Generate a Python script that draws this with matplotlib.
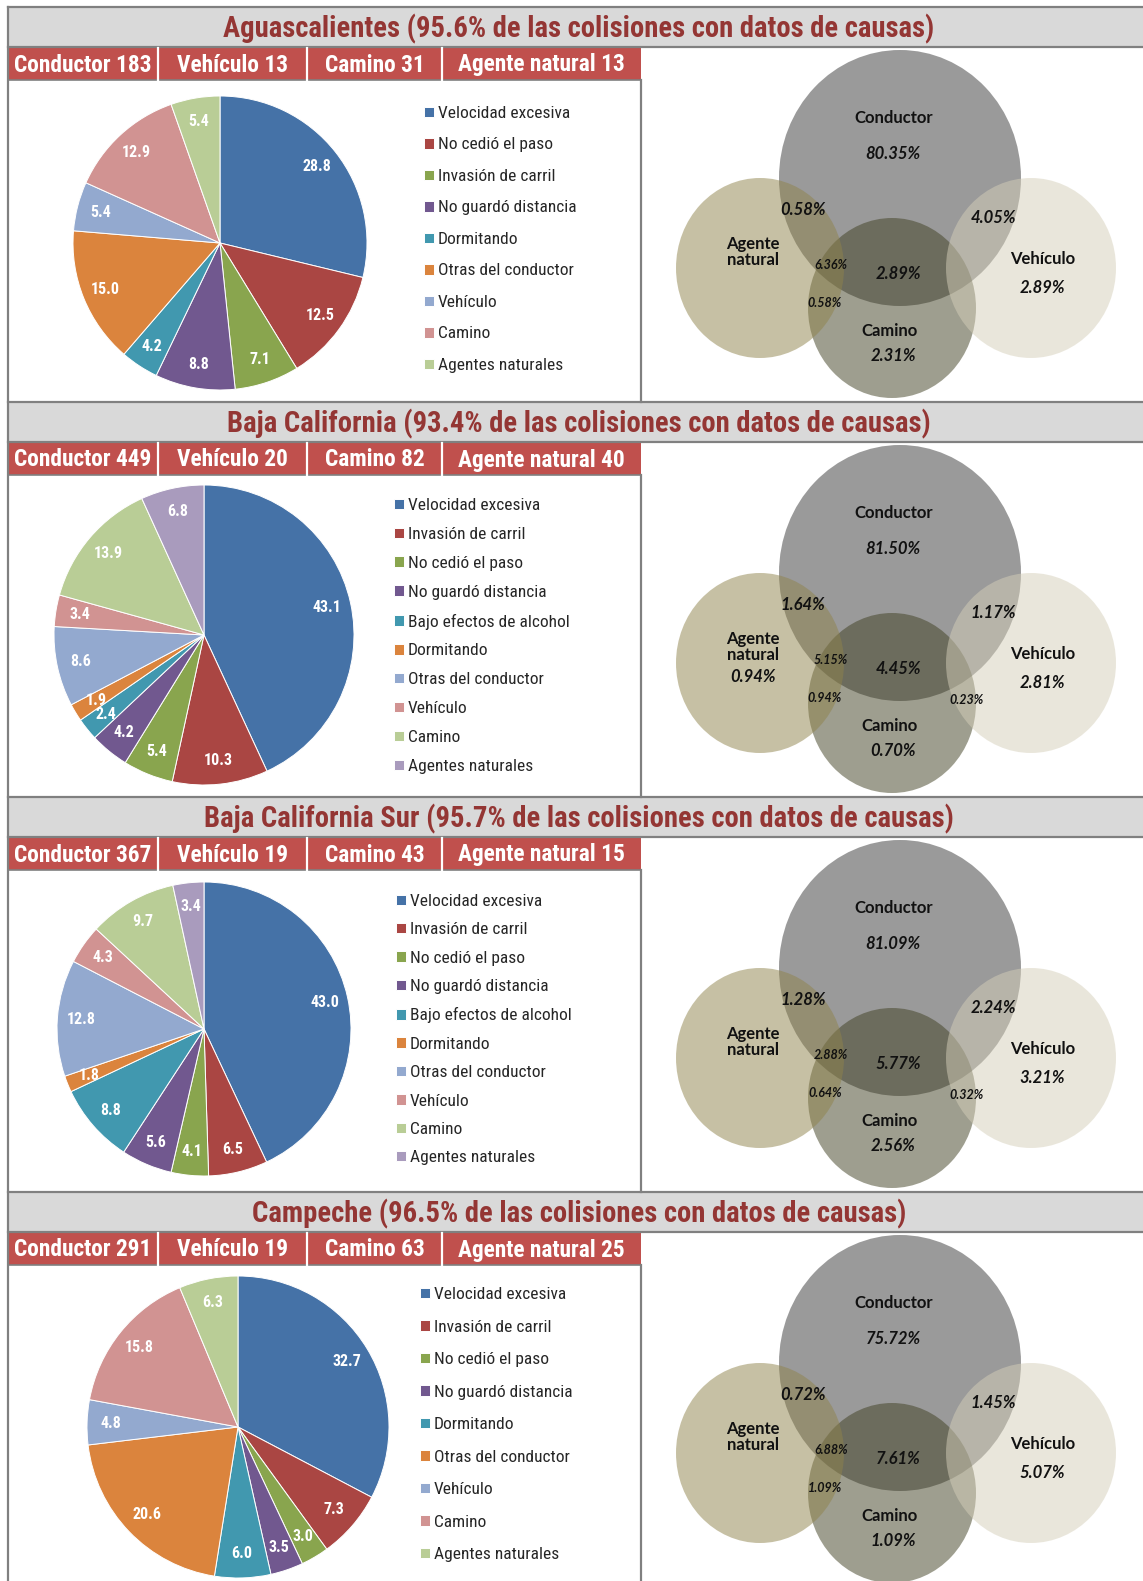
import matplotlib.pyplot as plt
from matplotlib.patches import Rectangle, Ellipse
from matplotlib.font_manager import FontProperties
import numpy as np

W, H = 1143, 1581

# ---- data ----
estados = ["Aguascalientes", "Baja California", "Baja California Sur", "Campeche"]
pct_datos = ["95.6", "93.4", "95.7", "96.5"]
conductor = [183, 449, 367, 291]
vehiculo = [13, 20, 19, 19]
camino = [31, 82, 43, 63]
agente = [13, 40, 15, 25]

causas_ags = ["Velocidad excesiva", "No cedió el paso", "Invasión de carril",
              "No guardó distancia", "Dormitando", "Otras del conductor",
              "Vehículo", "Camino", "Agentes naturales"]
causas_bc = ["Velocidad excesiva", "Invasión de carril", "No cedió el paso",
             "No guardó distancia", "Bajo efectos de alcohol", "Dormitando",
             "Otras del conductor", "Vehículo", "Camino", "Agentes naturales"]
causas_camp = ["Velocidad excesiva", "Invasión de carril", "No cedió el paso",
               "No guardó distancia", "Dormitando", "Otras del conductor",
               "Vehículo", "Camino", "Agentes naturales"]

pie_ags = [28.8, 12.5, 7.1, 8.8, 4.2, 15.0, 5.4, 12.9, 5.4]
pie_bc = [43.1, 10.3, 5.4, 4.2, 2.4, 1.9, 8.6, 3.4, 13.9, 6.8]
pie_bcs = [43.0, 6.5, 4.1, 5.6, 8.8, 1.8, 12.8, 4.3, 9.7, 3.4]
pie_camp = [32.7, 7.3, 3.0, 3.5, 6.0, 20.6, 4.8, 15.8, 6.3]

pies = [pie_ags, pie_bc, pie_bcs, pie_camp]
causas = [causas_ags, causas_bc, causas_bc, causas_camp]

# venn percentages (region -> per state)
venn_C = ["80.35%", "81.50%", "81.09%", "75.72%"]
venn_V = ["2.89%", "2.81%", "3.21%", "5.07%"]
venn_K = ["2.31%", "0.70%", "2.56%", "1.09%"]
venn_A = ["", "0.94%", "", ""]
venn_CA = ["0.58%", "1.64%", "1.28%", "0.72%"]
venn_CV = ["4.05%", "1.17%", "2.24%", "1.45%"]
venn_CK = ["2.89%", "4.45%", "5.77%", "7.61%"]
venn_CAK = ["6.36%", "5.15%", "2.88%", "6.88%"]
venn_AK = ["0.58%", "0.94%", "0.64%", "1.09%"]
venn_KV = ["", "0.23%", "0.32%", ""]

# ---- style / layout ----
palette = ["#4572A7", "#AA4643", "#89A54E", "#71588F", "#4198AF",
           "#DB843D", "#93A9CF", "#D19392", "#B9CD96", "#A99BBD"]
narrow = ["Liberation Sans Narrow", "Roboto Condensed", "DejaVu Sans"]
venn_font = ["Lato", "DejaVu Sans"]
red_title = "#943634"
gray_line = "#808080"

panel_top = [7, 402, 797, 1192]
pie_geo = [(220, 236, 147), (204, 233, 150), (204, 232, 147), (238, 235, 151)]
leg_geo = [(424, 99, 0.95), (394, 96, 0.80), (396, 97, 0.77), (420, 95, 1.01)]

fig = plt.figure(figsize=(W / 100, H / 100), dpi=100)
bg = fig.add_axes([0, 0, 1, 1])
bg.set_xlim(0, W)
bg.set_ylim(H, 0)
bg.axis("off")

# left border of whole sheet
bg.plot([8, 8], [7, H], color=gray_line, lw=1.6, zorder=5)

for i, y0 in enumerate(panel_top):
    # title bar
    bg.add_patch(Rectangle((8, y0), W - 8, 40, facecolor="#D9D9D9", edgecolor="none", zorder=3))
    bg.plot([8, W], [y0, y0], color=gray_line, lw=1.6, zorder=4)
    bg.plot([8, W], [y0 + 40, y0 + 40], color=gray_line, lw=1.6, zorder=4)
    bg.text(579, y0 + 22, f"{estados[i]} ({pct_datos[i]}% de las colisiones con datos de causas)",
            ha="center", va="center", fontsize=20.6, fontweight="bold", color=red_title,
            family=narrow, stretch="condensed", zorder=5)

    # red header
    bg.add_patch(Rectangle((8, y0 + 41), 633, 32, facecolor="#C0504D", edgecolor="none", zorder=3))
    bg.plot([8, 641], [y0 + 73, y0 + 73], color=gray_line, lw=1.2, zorder=4)
    cells = [(8, 158), (158, 307), (307, 442), (442, 641)]
    labels = [f"Conductor {conductor[i]}", f"Vehículo {vehiculo[i]}",
              f"Camino {camino[i]}", f"Agente natural {agente[i]}"]
    for (a, b), lab in zip(cells, labels):
        bg.text((a + b) / 2, y0 + 58, lab, ha="center", va="center", fontsize=16.8,
                fontweight="bold", color="white", family=narrow, stretch="condensed", zorder=5)
    for xd in [158, 307, 442]:
        bg.plot([xd, xd], [y0 + 41, y0 + 73], color="white", lw=1.6, zorder=4)

    # divider between pie and venn
    bg.plot([641, 641], [y0 + 73, y0 + 395], color=gray_line, lw=1.6, zorder=4)

    # ---- pie ----
    cx, cy, r = pie_geo[i]
    cy = y0 + cy
    pax = fig.add_axes([(cx - r) / W, 1 - (cy + r) / H, 2 * r / W, 2 * r / H])
    vals = pies[i]
    wedges, _ = pax.pie(vals, colors=palette[:len(vals)], startangle=90, counterclock=False,
                        radius=1, wedgeprops=dict(edgecolor="white", linewidth=0.7))
    pax.set_xlim(-1, 1)
    pax.set_ylim(-1, 1)
    for w, v in zip(wedges, vals):
        ang = np.deg2rad((w.theta1 + w.theta2) / 2)
        pax.text(0.84 * np.cos(ang), 0.84 * np.sin(ang), f"{v:.1f}", ha="center", va="center",
                 fontsize=11.5, fontweight="bold", color="white", family=narrow,
                 stretch="condensed")

    lx, ly, lsp = leg_geo[i]
    leg = pax.legend(wedges, causas[i], loc="upper left", bbox_to_anchor=(lx, y0 + ly),
                     bbox_transform=bg.transData, frameon=False, handlelength=0.55,
                     handleheight=0.55, handletextpad=0.25, labelspacing=lsp, borderpad=0,
                     borderaxespad=0,
                     prop=FontProperties(family=narrow, stretch="condensed", size=12.5))
    for t in leg.get_texts():
        t.set_color("#262626")

    # ---- venn ----
    circles = [
        (900, 171, 121, 128, "#373737"),   # Conductor
        (892, 301, 84, 90, "#3F3F21"),     # Camino
        (760, 261, 84, 90, "#8F834B"),     # Agente natural
        (1031, 261, 85, 90, "#D5CFB9"),    # Vehículo
    ]
    for (x, y, rx, ry, c) in circles:
        bg.add_patch(Ellipse((x, y0 + y), 2 * rx, 2 * ry, facecolor=c, alpha=0.5,
                             edgecolor="none", zorder=1))

    tk = dict(ha="center", va="center", color="#111111", family=venn_font, zorder=6)
    big = dict(fontsize=12, fontweight="bold", **tk)
    pct = dict(fontsize=12, fontweight="bold", style="italic", **tk)
    small = dict(fontsize=9, fontweight="bold", style="italic", **tk)

    bg.text(894, y0 + 111, "Conductor", **big)
    bg.text(893, y0 + 147, venn_C[i], **pct)
    bg.text(753, y0 + 245, "Agente\nnatural", linespacing=1.0, **big)
    if venn_A[i]:
        bg.text(753, y0 + 275, venn_A[i], **pct)
    bg.text(1043, y0 + 252, "Vehículo", **big)
    bg.text(1042, y0 + 281, venn_V[i], **pct)
    bg.text(890, y0 + 324, "Camino", **big)
    bg.text(893, y0 + 349, venn_K[i], **pct)
    bg.text(803, y0 + 203, venn_CA[i], **pct)
    bg.text(993, y0 + 211, venn_CV[i], **pct)
    bg.text(898, y0 + 267, venn_CK[i], **pct)
    bg.text(831, y0 + 258, venn_CAK[i], **small)
    bg.text(825, y0 + 296, venn_AK[i], **small)
    if venn_KV[i]:
        bg.text(967, y0 + 298, venn_KV[i], **small)

fig.savefig("out.png", dpi=100)
